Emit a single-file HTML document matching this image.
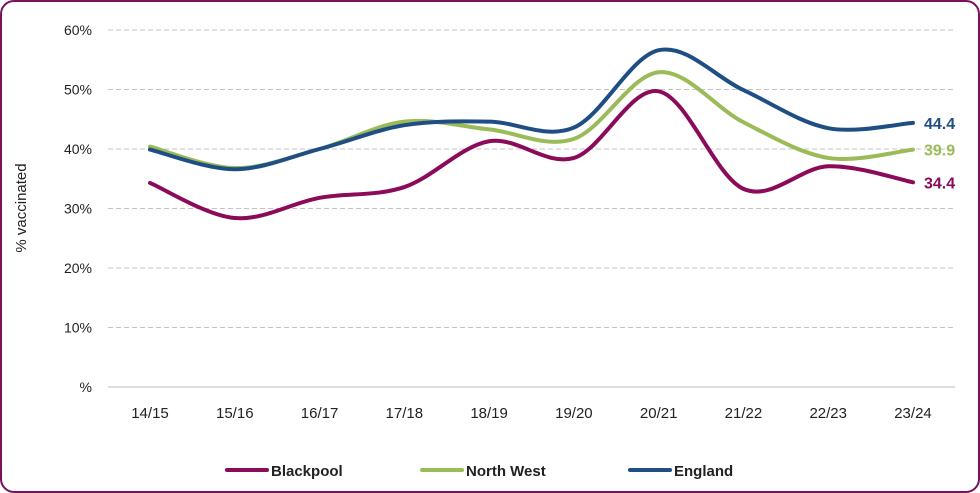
<!DOCTYPE html>
<html><head><meta charset="utf-8"><style>
html,body{margin:0;padding:0;background:#fff;}
#wrap{position:relative;width:980px;height:493px;box-sizing:border-box;border:2px solid #7a1060;border-radius:14px;overflow:hidden;background:#fff;}
svg{position:absolute;left:0;top:0;font-family:"Liberation Sans",sans-serif;}
</style></head><body>
<div id="wrap">
<svg id="chart" width="980" height="493"></svg>
</div>
<script>
const categories=["14/15","15/16","16/17","17/18","18/19","19/20","20/21","21/22","22/23","23/24"];
const blackpool=[34.3,28.4,31.8,33.6,41.3,38.5,49.7,33.3,37.1,34.4];
const northWest=[40.4,36.8,40.0,44.6,43.3,41.7,52.9,44.5,38.5,39.9];
const england=[39.9,36.6,40.0,44.0,44.6,43.6,56.6,49.9,43.5,44.4];
const yTicks=[0,10,20,30,40,50,60];
const yTickLabels=["%","10%","20%","30%","40%","50%","60%"];
const seriesNames=["Blackpool","North West","England"];
const seriesColors=["#8b0a5a","#9bbb59","#1f4e84"];

const svg=document.getElementById('chart');
const NS="http://www.w3.org/2000/svg";
function x(i){return 148+i*(911-148)/(categories.length-1);}
function y(v){return 385-v*(385-28)/60;}
function mk(t,a,parent){const e=document.createElementNS(NS,t);for(const k in a)e.setAttribute(k,a[k]);(parent||svg).appendChild(e);return e;}

yTicks.forEach((v,i)=>{
  if(v>0){const g=mk('line',{x1:106,x2:953,y1:y(v),y2:y(v),stroke:'#c8c0c8','stroke-dasharray':'5,3','stroke-width':1});
  
  }
  const t=mk('text',{x:90,y:y(v)+5,'text-anchor':'end','font-size':14,fill:'#222'});
  t.textContent=yTickLabels[i];
  
  
});
const ax=mk('line',{x1:106,x2:953,y1:385,y2:385,stroke:'#bbb','stroke-width':1});


categories.forEach((c,i)=>{
  const t=mk('text',{x:x(i),y:416,'text-anchor':'middle','font-size':15,fill:'#222'});
  t.textContent=c;
  
  
});
const yt=mk('text',{x:24,y:206,'text-anchor':'middle','font-size':15,fill:'#222',transform:'rotate(-90 24 206)'});
yt.textContent='% vaccinated';



function smooth(vals){
  const p=vals.map((v,i)=>[x(i),y(v)]);
  let d='M'+p[0][0]+','+p[0][1];
  for(let i=0;i<p.length-1;i++){
    const p0=p[i-1]||p[i],p1=p[i],p2=p[i+1],p3=p[i+2]||p[i+1];
    const t=1/6;
    d+=' C'+(p1[0]+(p2[0]-p0[0])*t)+','+(p1[1]+(p2[1]-p0[1])*t)+' '+(p2[0]-(p3[0]-p1[0])*t)+','+(p2[1]-(p3[1]-p1[1])*t)+' '+p2[0]+','+p2[1];
  }
  return d;
}
const data=[blackpool,northWest,england];
const lnames=['blackpool-line','north-west-line','england-line'];
data.forEach((s,k)=>{
  const p=mk('path',{d:smooth(s),fill:'none',stroke:seriesColors[k],'stroke-width':4,'stroke-linecap':'round'});
  
  
  const last=s[s.length-1];
  const t=mk('text',{x:922,y:y(last)+6,'font-size':16,'font-weight':'bold',fill:seriesColors[k]});
  t.textContent=last.toFixed(1);
  
  
});
const lx=[225,420,628];
seriesNames.forEach((n,k)=>{
  const g=mk('g',{});
  
  
  mk('line',{x1:lx[k],x2:lx[k]+40,y1:468,y2:468,stroke:seriesColors[k],'stroke-width':4,'stroke-linecap':'round'},g);
  const t=mk('text',{x:lx[k]+44,y:474,'font-size':15,'font-weight':'bold',fill:'#222'},g);
  t.textContent=n;
});
</script>
</body></html>
